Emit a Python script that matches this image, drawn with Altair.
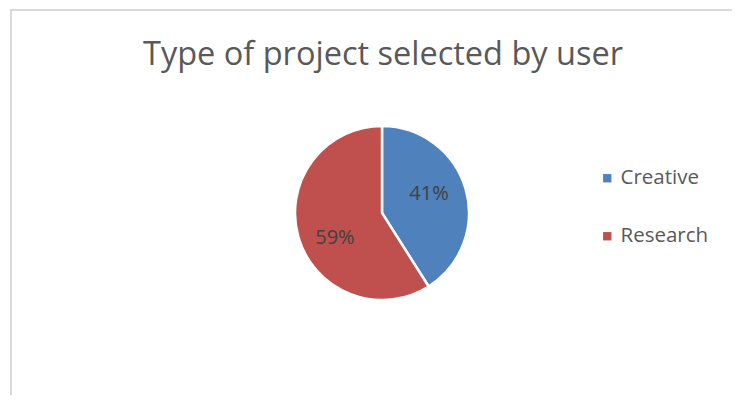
import altair as alt
import pandas as pd
import math

categories = ["Creative", "Research"]
values = [41, 59]
labels = ["41%", "59%"]
colors = ["#4F81BD", "#C0504D"]
title_text = "Type of project selected by user"

df = pd.DataFrame({"type": categories, "value": values, "label": labels})

W, H = 724, 387
CX, CY, R = 374, 205, 87
FONT = "Open Sans"
SHIFT = math.radians(-9)

color = alt.Color(
    "type:N",
    scale=alt.Scale(domain=categories, range=colors),
    legend=alt.Legend(
        orient="none", legendX=589, legendY=160, title=None,
        symbolType="square", symbolSize=70, symbolStrokeWidth=0,
        labelFontSize=20.5, labelFont=FONT, labelColor="#595959",
        rowPadding=37, labelOffset=3,
    ),
)

pie = alt.Chart(df).mark_arc(outerRadius=R, stroke="white", strokeWidth=2.5).encode(
    theta=alt.Theta("value:Q", stack=True),
    order=alt.Order("type:N"),
    color=color, x=alt.value(CX), y=alt.value(CY)
)

text = alt.Chart(df).mark_text(
    radius=52, fontSize=20, font=FONT, color="#404040", dy=3
).encode(
    theta=alt.Theta("value:Q", stack=True,
                    scale=alt.Scale(range=[SHIFT, 2 * math.pi + SHIFT])),
    order=alt.Order("type:N"),
    text="label:N", x=alt.value(CX), y=alt.value(CY)
)

title = alt.Chart(pd.DataFrame({"t": [title_text]})).mark_text(
    fontSize=32.5, font=FONT, color="#595959", align="center", baseline="alphabetic"
).encode(text="t:N", x=alt.value(CX + 1), y=alt.value(57))

border_left = alt.Chart(pd.DataFrame({"a": [0]})).mark_rule(
    color="#D9D9D9", strokeWidth=2
).encode(x=alt.value(3), y=alt.value(1), y2=alt.value(H))

border_top = alt.Chart(pd.DataFrame({"a": [0]})).mark_rule(
    color="#D9D9D9", strokeWidth=2
).encode(y=alt.value(2), x=alt.value(2), x2=alt.value(W))

chart = (
    alt.layer(border_left, border_top, pie, text, title)
    .resolve_scale(theta="independent")
    .properties(width=W, height=H, padding=0, autosize=alt.AutoSizeParams(type="none"))
    .configure_view(stroke=None)
)

chart.save("out.html", embed_options={"renderer": "svg", "actions": False})
